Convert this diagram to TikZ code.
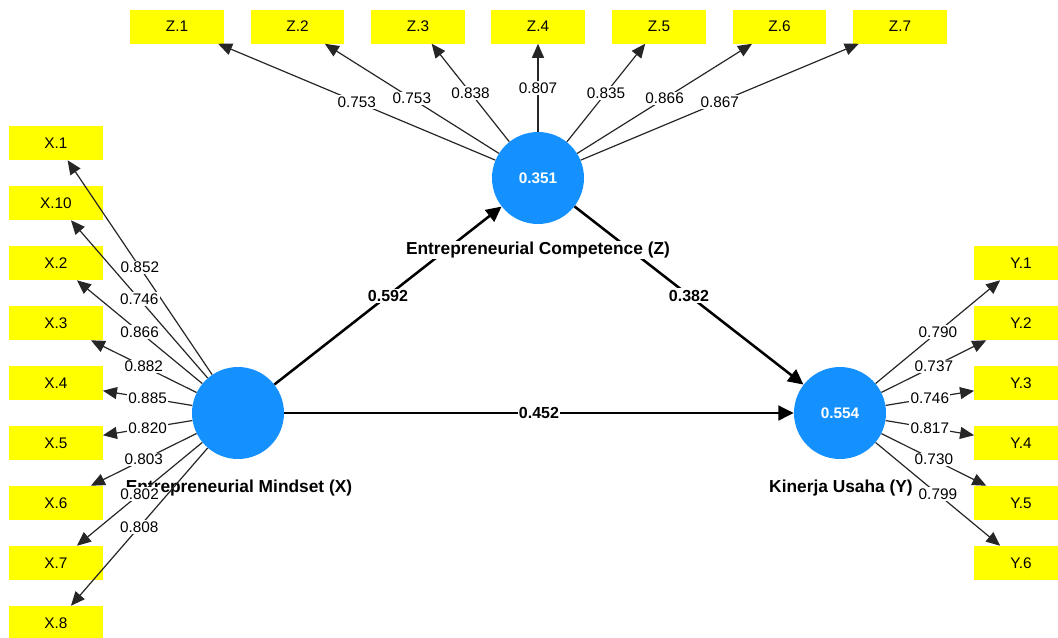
\documentclass[tikz,border=0pt]{standalone}
\usepackage{fontspec}
\setmainfont{Liberation Sans}
\usetikzlibrary{arrows.meta}
\definecolor{lvblue}{RGB}{20,145,255}
\definecolor{boxyellow}{RGB}{255,255,0}
\tikzset{>={Triangle[length=10.5pt,width=9pt]}}
\tikzset{box/.style={fill=boxyellow, minimum width=70pt, minimum height=25.5pt, inner sep=0pt,
    font=\fontsize{11.5}{13}\selectfont}}
\tikzset{lv/.style={circle, fill=lvblue, minimum size=69pt, inner sep=0pt, text=white,
    font=\fontsize{11.5}{13}\selectfont\bfseries}}
\tikzset{lvname/.style={fill=white, inner sep=1pt, font=\fontsize{13}{15}\selectfont\bfseries}}
\tikzset{ld/.style={->, line width=0.9pt, black!85}}
\tikzset{ldval/.style={fill=white, inner sep=1pt, text=black, font=\fontsize{11.5}{13}\selectfont}}
\tikzset{pth/.style={-{Triangle[length=11.5pt,width=11pt]}, line width=1.9pt}}
\tikzset{pthval/.style={fill=white, inner sep=1pt, font=\fontsize{12}{14}\selectfont\bfseries}}

\begin{document}
\begin{tikzpicture}[x=0.75pt, y=-0.75pt]
\useasboundingbox (0,0) rectangle (1058,637);

% constructs
\node[lv] (X) at (238,413) {};
\node[lv] (Z) at (538,178) {0.351};
\node[lv] (Y) at (840,413) {0.554};

% indicator boxes
\node[box] (x1) at (56,143) {X.1};
\node[box] (x10) at (56,203) {X.10};
\node[box] (x2) at (56,263) {X.2};
\node[box] (x3) at (56,323) {X.3};
\node[box] (x4) at (56,383) {X.4};
\node[box] (x5) at (56,443) {X.5};
\node[box] (x6) at (56,503) {X.6};
\node[box] (x7) at (56,563) {X.7};
\node[box] (x8) at (56,623) {X.8};

\node[box] (z1) at (177,26.5) {Z.1};
\node[box] (z2) at (297.5,26.5) {Z.2};
\node[box] (z3) at (418,26.5) {Z.3};
\node[box] (z4) at (538,26.5) {Z.4};
\node[box] (z5) at (659,26.5) {Z.5};
\node[box] (z6) at (779.5,26.5) {Z.6};
\node[box] (z7) at (900,26.5) {Z.7};

\node[box] (y1) at (1021,263) {Y.1};
\node[box] (y2) at (1021,323) {Y.2};
\node[box] (y3) at (1021,383) {Y.3};
\node[box] (y4) at (1021,443) {Y.4};
\node[box] (y5) at (1021,503) {Y.5};
\node[box] (y6) at (1021,563) {Y.6};

% structural paths
\draw[pth] (X) -- node[pthval]{0.592} (Z);
\draw[pth] (Z) -- node[pthval]{0.382} (Y);
\draw[pth] (X) -- node[pthval]{0.452} (Y);

\node[lvname] (zname) at (538,250) {Entrepreneurial Competence (Z)};
\node[lvname] (xname) at (239,488) {Entrepreneurial Mindset (X)};
\node[lvname] (yname) at (841,488) {Kinerja Usaha (Y)};

% loadings X
\draw[ld] (X) -- node[ldval]{0.852} (x1);
\draw[ld] (X) -- node[ldval]{0.746} (x10);
\draw[ld] (X) -- node[ldval]{0.866} (x2);
\draw[ld] (X) -- node[ldval]{0.882} (x3);
\draw[ld] (X) -- node[ldval]{0.885} (x4);
\draw[ld] (X) -- node[ldval]{0.820} (x5);
\draw[ld] (X) -- node[ldval]{0.803} (x6);
\draw[ld] (X) -- node[ldval]{0.802} (x7);
\draw[ld] (X) -- node[ldval]{0.808} (x8);

% loadings Z
\draw[ld] (Z) -- node[ldval]{0.753} (z1);
\draw[ld] (Z) -- node[ldval]{0.753} (z2);
\draw[ld] (Z) -- node[ldval]{0.838} (z3);
\draw[ld] (Z) -- node[ldval]{0.807} (z4);
\draw[ld] (Z) -- node[ldval]{0.835} (z5);
\draw[ld] (Z) -- node[ldval]{0.866} (z6);
\draw[ld] (Z) -- node[ldval]{0.867} (z7);

% loadings Y
\draw[ld] (Y) -- node[ldval]{0.790} (y1);
\draw[ld] (Y) -- node[ldval]{0.737} (y2);
\draw[ld] (Y) -- node[ldval]{0.746} (y3);
\draw[ld] (Y) -- node[ldval]{0.817} (y4);
\draw[ld] (Y) -- node[ldval]{0.730} (y5);
\draw[ld] (Y) -- node[ldval]{0.799} (y6);

\end{tikzpicture}
\end{document}
